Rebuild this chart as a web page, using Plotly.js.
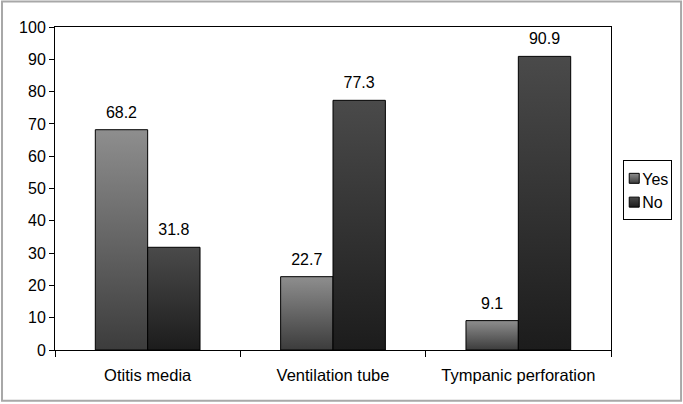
<!DOCTYPE html>
<html><head><meta charset="utf-8">
<script src="https://cdn.plot.ly/plotly-3.0.1.min.js"></script>
<style>body{margin:0;padding:0;background:#fff}#chart{width:683px;height:404px}</style>
</head><body><div id="chart"></div>
<script>
const categories = ["Otitis media", "Ventilation tube", "Tympanic perforation"];
const yesValues = [68.2, 22.7, 9.1];
const noValues = [31.8, 77.3, 90.9];
const yTicks = [0,10,20,30,40,50,60,70,80,90,100];

const fam = "Liberation Sans, Arial, sans-serif";
const traces = [
  {type:"bar", name:"Yes", x:categories, y:yesValues, text:yesValues.map(v=>v.toFixed(1)),
   textposition:"outside", cliponaxis:false, textfont:{family:fam,size:16,color:"#000"},
   marker:{color:"#666666", line:{color:"#000", width:1}}},
  {type:"bar", name:"No", x:categories, y:noValues, text:noValues.map(v=>v.toFixed(1)),
   textposition:"outside", cliponaxis:false, textfont:{family:fam,size:16,color:"#000"},
   marker:{color:"#2e2e2e", line:{color:"#000", width:1}}}
];
const layout = {
  width:683, height:404, margin:{l:55, r:72, t:27, b:54, autoexpand:false},
  paper_bgcolor:"#fff", plot_bgcolor:"#fff", font:{family:fam,size:16,color:"#000"},
  barmode:"group", bargap:0.435, bargroupgap:0,
  showlegend:true,
  legend:{x:1.022, xanchor:"left", y:0.494, yanchor:"middle", bordercolor:"#000", borderwidth:1,
          font:{family:fam,size:16,color:"#000"}, itemwidth:30, tracegroupgap:0},
  xaxis:{showline:true, linecolor:"#000", linewidth:1, mirror:true, ticks:"outside", tickson:"boundaries",
         ticklen:6, tickcolor:"#000", showgrid:false, ticklabelstandoff:10,
         tickfont:{family:fam,size:16.5,color:"#000"}},
  yaxis:{range:[0,100], tickvals:yTicks, showline:true, linecolor:"#000", linewidth:1, mirror:true,
         ticks:"outside", ticklen:5, tickcolor:"#000", showgrid:false, zeroline:false,
         tickfont:{family:fam,size:16,color:"#000"}},
  shapes:[{type:"rect", xref:"paper", yref:"paper", x0:-0.0953, x1:1.126, y0:-0.157, y1:1.079,
           line:{color:"#a8a8a8", width:2}, fillcolor:"rgba(0,0,0,0)"}]
};
Plotly.newPlot("chart", traces, layout, {displayModeBar:false, staticPlot:true}).then(gd=>{
  const svg = gd.querySelector("svg.main-svg");
  const ns = "http://www.w3.org/2000/svg";
  let defs = svg.querySelector("defs");
  function grad(id, top, bottom){
    const g = document.createElementNS(ns,"linearGradient");
    g.setAttribute("id",id); g.setAttribute("x1","0"); g.setAttribute("y1","0"); g.setAttribute("x2","0"); g.setAttribute("y2","1");
    [[0,top],[1,bottom]].forEach(([o,c])=>{const s=document.createElementNS(ns,"stop");s.setAttribute("offset",o);s.setAttribute("stop-color",c);g.appendChild(s);});
    defs.appendChild(g);
  }
  grad("gYes","#8e8e8e","#3c3c3c");
  grad("gNo","#4a4a4a","#1c1c1c");
  const tr = gd.querySelectorAll(".barlayer .trace");
  ["gYes","gNo"].forEach((id,i)=>{ if(tr[i]) {
    tr[i].querySelectorAll(".point path").forEach(p=>p.style.fill=`url(#${id})`);
    tr[i].querySelectorAll(".point text").forEach(t=>{const tf=t.getAttribute("transform")||""; t.setAttribute("transform","translate(0,-6) "+tf);});
  }});
  // compact legend like the original
  const legend = gd.querySelector(".legend");
  const leg = legend.querySelectorAll(".traces");
  let maxW = 0;
  ["gYes","gNo"].forEach((id,i)=>{ if(leg[i]) {
    const pts = leg[i].querySelector(".legendpoints");
    pts.querySelectorAll("path").forEach(p=>{p.style.fill=`url(#${id})`; p.setAttribute("d","M5,5H-5V-5H5Z"); p.style.strokeWidth="1px"; p.setAttribute("transform","translate(10,0)");});
    const t = leg[i].querySelector(".legendtext");
    t.setAttribute("x", "18");
    maxW = Math.max(maxW, t.getBBox().width);
  }});
  const bg = legend.querySelector(".bg");
  const newW = Math.round(18 + maxW + 4);
  bg.setAttribute("width", newW);
  legend.querySelectorAll("clipPath rect, .scrollbox + rect").forEach(r=>r.setAttribute("width", newW));
});
</script></body></html>
